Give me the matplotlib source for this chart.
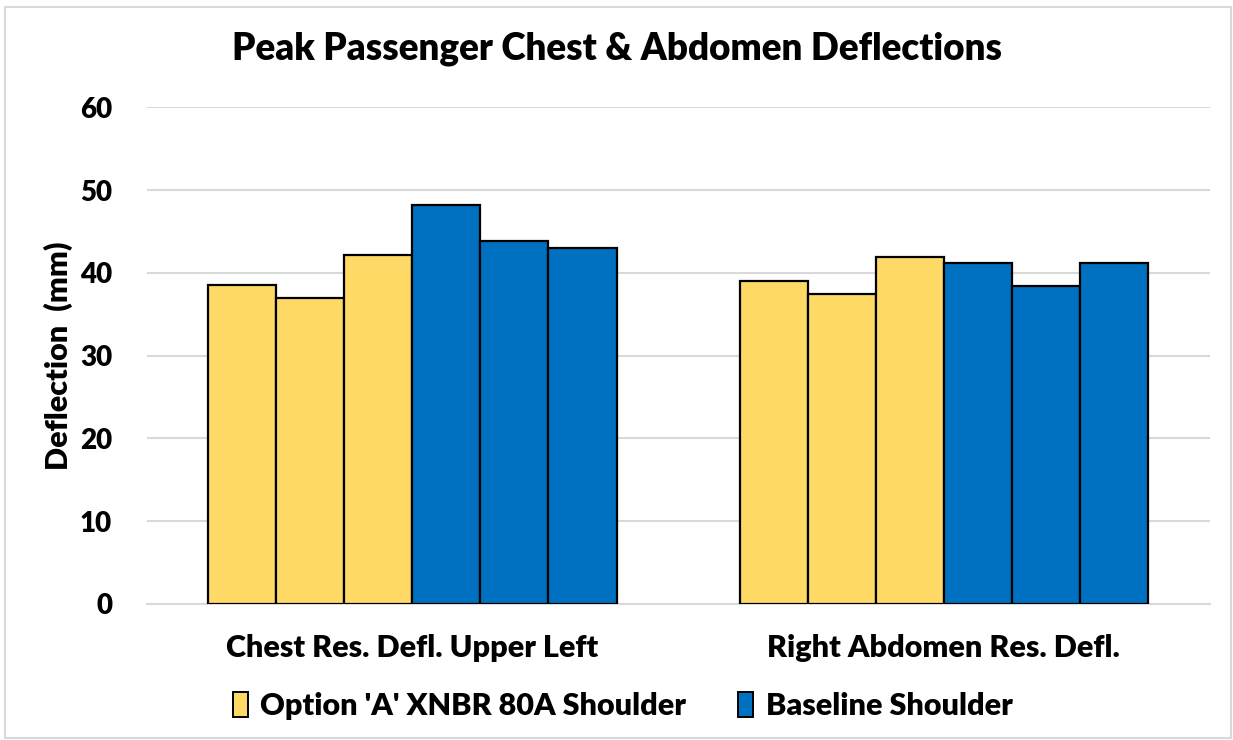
import matplotlib
matplotlib.use("Agg")
import matplotlib.pyplot as plt
from matplotlib.patches import Patch, Rectangle
import numpy as np

categories = ["Chest Res. Defl. Upper Left", "Right Abdomen Res. Defl."]
option_a = [[38.5, 37.0, 42.1], [39.0, 37.4, 41.9]]
baseline = [[48.2, 43.9, 43.0], [41.2, 38.4, 41.2]]
series_names = ["Option 'A' XNBR 80A Shoulder", "Baseline Shoulder"]
yticks = [0, 10, 20, 30, 40, 50, 60]

YELLOW = "#FFD966"
BLUE = "#0070C0"
GRID = "#D9D9D9"
FONT = ["Lato", "DejaVu Sans"]
W = "heavy"

plt.rcParams["font.family"] = FONT
plt.rcParams["font.weight"] = W

fig = plt.figure(figsize=(12.33, 7.4), dpi=100)
ax = fig.add_axes([0.119, 0.184, 0.862, 0.671])

width = 0.128
x = np.arange(len(categories))
offsets = (np.arange(6) - 2.5) * width
for i, cat in enumerate(categories):
    vals = option_a[i] + baseline[i]
    colors = [YELLOW] * len(option_a[i]) + [BLUE] * len(baseline[i])
    ax.bar(x[i] + offsets, vals, width=width, color=colors,
           edgecolor="black", linewidth=1.6, zorder=3)

ax.set_xlim(-0.5, 1.5)
ax.set_ylim(0, 60)
ax.set_yticks(yticks)
ax.set_xticks(x)
ax.set_xticklabels(categories, fontsize=22, fontweight=W)
ax.tick_params(axis="x", length=0, pad=22)
ax.tick_params(axis="y", length=0, pad=25, labelsize=20)
for lab in ax.get_yticklabels():
    lab.set_fontweight(W)
ax.yaxis.grid(True, color=GRID, linewidth=1.5, zorder=0)
for s in ["top", "right", "left"]:
    ax.spines[s].set_visible(False)
ax.spines["bottom"].set_color(GRID)
ax.spines["bottom"].set_linewidth(1.5)
ax.set_ylabel("Deflection  (mm)", fontsize=22, fontweight=W)
ax.yaxis.set_label_coords(-0.069, 0.5)

fig.text(0.5, 0.934, "Peak Passenger Chest & Abdomen Deflections",
         ha="center", va="center", fontsize=26.5, fontweight=W)

handles = [Patch(facecolor=YELLOW, edgecolor="black", linewidth=1.4),
           Patch(facecolor=BLUE, edgecolor="black", linewidth=1.4)]
fig.legend(handles, series_names, loc="center", bbox_to_anchor=(0.505, 0.046),
           ncol=2, frameon=False, handlelength=0.5,
           handleheight=0.9, handletextpad=0.4, columnspacing=1.7,
           prop={"weight": W, "size": 22, "family": FONT})

fig.patches.append(Rectangle((0.004, 0.003), 0.994, 0.988, transform=fig.transFigure,
                             fill=False, edgecolor=GRID, linewidth=1.5))

fig.savefig("out.png", dpi=100)
